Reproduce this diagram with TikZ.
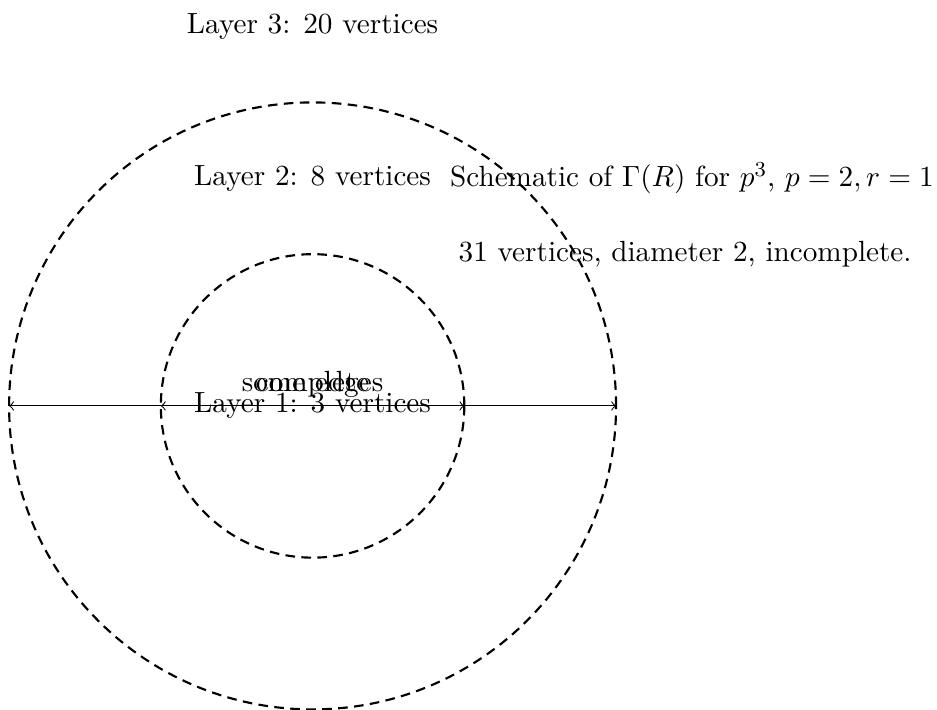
\documentclass[tikz,border=0pt]{standalone}
\begin{document}
\begin{tikzpicture}[
  every node/.style={font=\fontsize{10.95}{13.6}\selectfont},
  layer/.style={line width=0.8pt, dash pattern=on 3.6pt off 2.4pt},
  conn/.style={->}
]
\useasboundingbox (-4.12,-4.0) rectangle (8.23,5.35);
\coordinate (c) at (0,0);
\draw[layer] (c) circle (4);
\draw[layer] (c) circle (2);
\coordinate (il) at (-2,0);
\coordinate (ir) at (2,0);
\coordinate (ol) at (-4,0);
\coordinate (or) at (4,0);
\draw[conn] (c) -- (il);
\draw[conn] (c) -- (ir);
\draw[conn] (il) -- (ol);
\draw[conn] (ir) -- (or);
\node (l1) at (0,0) {Layer 1: 3 vertices};
\node (se) at (0,0.29) {some edges};
\node (cp) at (0,0.29) {complete};
\node (l2) at (0,3) {Layer 2: 8 vertices};
\node (l3) at (0,5) {Layer 3: 20 vertices};
\node (t1) at (5,3) {Schematic of $\Gamma(R)$ for $p^3$, $p=2, r=1$};
\node (t2) at (4.91,2) {31 vertices, diameter 2, incomplete.};
\end{tikzpicture}
\end{document}
